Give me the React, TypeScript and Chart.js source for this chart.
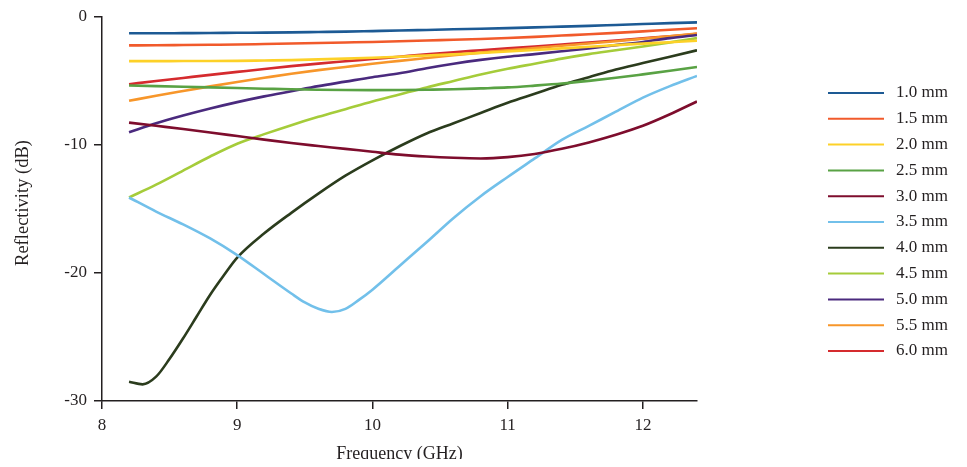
import React, { useEffect, useRef } from "react";
import { Chart, registerables } from "chart.js";

Chart.register(...registerables);

const freqs = [8.2, 8.4, 8.6, 8.8, 9.0, 9.2, 9.4, 9.6, 9.8, 10.0, 10.2, 10.4, 10.6, 10.8, 11.0, 11.2, 11.4, 11.6, 11.8, 12.0, 12.2, 12.4];
const freqs35 = [8.2, 8.4, 8.6, 8.8, 9.0, 9.2, 9.4, 9.5, 9.6, 9.7, 9.8, 9.9, 10.0, 10.2, 10.4, 10.6, 10.8, 11.0, 11.2, 11.4, 11.6, 11.8, 12.0, 12.2, 12.4];
const freqs40 = [8.2, 8.3, 8.4, 8.5, 8.6, 8.7, 8.8, 8.9, 9.0, 9.2, 9.4, 9.6, 9.8, 10.0, 10.2, 10.4, 10.6, 10.8, 11.0, 11.2, 11.4, 11.6, 11.8, 12.0, 12.2, 12.4];

const labels = ["1.0 mm", "1.5 mm", "2.0 mm", "2.5 mm", "3.0 mm", "3.5 mm", "4.0 mm", "4.5 mm", "5.0 mm", "5.5 mm", "6.0 mm"];
const colors = ["#1d5a94", "#f15a2b", "#fdd128", "#59a244", "#7e0d2d", "#72c0ea", "#2b3c1d", "#a5cc3a", "#4a2a7e", "#f7962a", "#d52b2e"];

const s10 = [-1.27, -1.27, -1.26, -1.25, -1.23, -1.22, -1.2, -1.17, -1.14, -1.1, -1.06, -1.01, -0.96, -0.92, -0.87, -0.81, -0.75, -0.69, -0.62, -0.55, -0.48, -0.42];
const s15 = [-2.22, -2.21, -2.19, -2.17, -2.15, -2.11, -2.07, -2.03, -1.99, -1.95, -1.9, -1.84, -1.78, -1.72, -1.64, -1.55, -1.45, -1.35, -1.24, -1.12, -1.0, -0.88];
const s20 = [-3.45, -3.45, -3.44, -3.44, -3.43, -3.4, -3.37, -3.31, -3.25, -3.18, -3.1, -3.01, -2.92, -2.81, -2.7, -2.58, -2.45, -2.33, -2.2, -2.08, -1.97, -1.85];
const s25 = [-5.35, -5.4, -5.45, -5.5, -5.55, -5.6, -5.65, -5.68, -5.7, -5.71, -5.7, -5.68, -5.65, -5.58, -5.5, -5.36, -5.2, -4.99, -4.75, -4.48, -4.2, -3.9];
const s30 = [-8.25, -8.5, -8.75, -9.02, -9.3, -9.58, -9.85, -10.08, -10.3, -10.53, -10.75, -10.9, -11.0, -11.05, -10.95, -10.7, -10.3, -9.8, -9.2, -8.5, -7.6, -6.6];
const s35 = [-14.1, -15.2, -16.2, -17.3, -18.6, -20.1, -21.6, -22.3, -22.8, -23.05, -22.8, -22.1, -21.3, -19.45, -17.6, -15.7, -14.0, -12.5, -11.05, -9.6, -8.5, -7.4, -6.3, -5.4, -4.6];
const s40 = [-28.5, -28.7, -28.1, -26.7, -25.1, -23.4, -21.7, -20.2, -18.8, -16.9, -15.3, -13.8, -12.4, -11.2, -10.1, -9.1, -8.3, -7.5, -6.7, -6.0, -5.3, -4.7, -4.1, -3.6, -3.1, -2.6];
const s45 = [-14.1, -13.1, -12.0, -10.9, -9.9, -9.15, -8.45, -7.8, -7.2, -6.6, -6.05, -5.5, -5.0, -4.5, -4.05, -3.65, -3.25, -2.9, -2.6, -2.3, -1.98, -1.65];
const s50 = [-9.0, -8.3, -7.7, -7.15, -6.65, -6.2, -5.8, -5.4, -5.05, -4.7, -4.4, -4.0, -3.65, -3.35, -3.1, -2.9, -2.68, -2.45, -2.2, -1.95, -1.65, -1.4];
const s55 = [-6.55, -6.15, -5.78, -5.42, -5.08, -4.75, -4.43, -4.15, -3.9, -3.65, -3.43, -3.2, -2.98, -2.78, -2.6, -2.43, -2.25, -2.07, -1.89, -1.7, -1.5, -1.3];
const s60 = [-5.25, -5.0, -4.76, -4.52, -4.29, -4.06, -3.84, -3.64, -3.46, -3.28, -3.1, -2.92, -2.75, -2.6, -2.45, -2.3, -2.15, -2.0, -1.84, -1.67, -1.5, -1.32];

const seriesValues = [s10, s15, s20, s25, s30, s35, s40, s45, s50, s55, s60];
const seriesFreqs = [freqs, freqs, freqs, freqs, freqs, freqs35, freqs40, freqs, freqs, freqs, freqs];

const xTicks = [8, 9, 10, 11, 12];
const yTicks = [0, -10, -20, -30];
const xTitle = "Frequency (GHz)";
const yTitle = "Reflectivity (dB)";

const FONT = "'Liberation Serif', 'Times New Roman', serif";
const INK = "#231f20";

const sideLegend = {
  id: "sideLegend",
  afterDraw(chart: any) {
    const { ctx, chartArea } = chart;
    const x0 = chartArea.right + 131;
    const y0 = chartArea.top + 76;
    ctx.save();
    ctx.font = `17px ${FONT}`;
    ctx.textBaseline = "middle";
    ctx.textAlign = "left";
    chart.data.datasets.forEach((ds: any, i: number) => {
      const y = y0 + i * 25.8;
      ctx.strokeStyle = ds.borderColor;
      ctx.lineWidth = 2;
      ctx.beginPath();
      ctx.moveTo(x0, y);
      ctx.lineTo(x0 + 56, y);
      ctx.stroke();
      ctx.fillStyle = INK;
      ctx.fillText(ds.label, x0 + 68, y);
    });
    // y-axis title
    ctx.save();
    ctx.translate(chartArea.left - 79, (chartArea.top + chartArea.bottom) / 2 - 6);
    ctx.rotate(-Math.PI / 2);
    ctx.textAlign = "center";
    ctx.textBaseline = "middle";
    ctx.font = `18.5px ${FONT}`;
    ctx.fillText(yTitle, 0, 0);
    ctx.restore();
    ctx.restore();
  },
};

export default function App() {
  const ref = useRef<HTMLCanvasElement | null>(null);
  useEffect(() => {
    if (!ref.current) return;
    const datasets = labels.map((label, i) => ({
      label,
      data: seriesValues[i].map((v, k) => ({ x: seriesFreqs[i][k], y: v })),
      borderColor: colors[i],
      backgroundColor: colors[i],
      borderWidth: 2.6,
      pointRadius: 0,
      cubicInterpolationMode: "monotone" as const,
      fill: false,
    }));
    const chart = new Chart(ref.current, {
      type: "line",
      data: { datasets },
      plugins: [sideLegend],
      options: {
        animation: false,
        responsive: true,
        maintainAspectRatio: false,
        layout: { padding: { left: 0, top: 9, right: 262, bottom: 0 } },
        plugins: { legend: { display: false }, tooltip: { enabled: false } },
        scales: {
          x: {
            type: "linear",
            min: 8,
            max: 12.4,
            afterFit: (s: any) => { s.height = 58; },
            afterBuildTicks: (s: any) => { s.ticks = xTicks.map((v) => ({ value: v })); },
            ticks: { stepSize: 1, includeBounds: false, color: INK, padding: 8, font: { family: FONT, size: 17, lineHeight: 1 } },
            grid: { drawOnChartArea: false, drawTicks: true, tickLength: 8, color: INK, lineWidth: 1.5 },
            border: { display: true, color: INK, width: 1.5 },
            title: { display: true, text: xTitle, color: INK, font: { family: FONT, size: 18 }, padding: { top: 0, bottom: -6 } },
          },
          y: {
            type: "linear",
            min: -30,
            max: 0,
            afterFit: (s: any) => { s.width = 94; },
            afterBuildTicks: (s: any) => { s.ticks = yTicks.map((v) => ({ value: v })); },
            ticks: { stepSize: 10, color: INK, padding: 7, font: { family: FONT, size: 17, lineHeight: 0.1 } },
            grid: { drawOnChartArea: false, drawTicks: true, tickLength: 8, color: INK, lineWidth: 1.5 },
            border: { display: true, color: INK, width: 1.5 },
            title: { display: false },
          },
        },
      },
    });
    return () => chart.destroy();
  }, []);
  return (
    <div style={{ position: "relative", width: 951, height: 451 }}>
      <canvas ref={ref} />
    </div>
  );
}
